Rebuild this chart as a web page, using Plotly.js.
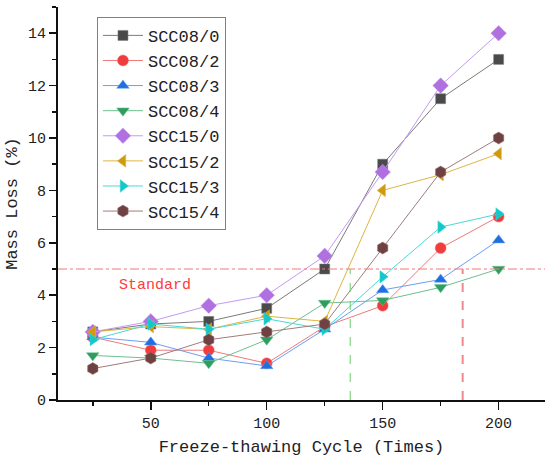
<!DOCTYPE html>
<html><head><meta charset="utf-8">
<script src="https://cdn.plot.ly/plotly-3.0.1.min.js"></script>
<style>html,body{margin:0;padding:0;background:#fff}</style>
</head><body>
<div id="chart" style="width:550px;height:463px"></div>
<script>
var cycles = [25, 50, 75, 100, 125, 150, 175, 200];
var names = ["SCC08/0","SCC08/2","SCC08/3","SCC08/4","SCC15/0","SCC15/2","SCC15/3","SCC15/4"];
var scc08_0 = [2.6, 2.9, 3.0, 3.5, 5.0, 9.0, 11.5, 13.0];
var scc08_2 = [2.4, 1.9, 1.9, 1.4, 2.8, 3.6, 5.8, 7.0];
var scc08_3 = [2.4, 2.2, 1.6, 1.3, 2.7, 4.2, 4.6, 6.1];
var scc08_4 = [1.7, 1.6, 1.4, 2.3, 3.7, 3.8, 4.3, 5.0];
var scc15_0 = [2.6, 3.0, 3.6, 4.0, 5.5, 8.7, 12.0, 14.0];
var scc15_2 = [2.6, 2.8, 2.7, 3.2, 3.0, 8.0, 8.6, 9.4];
var scc15_3 = [2.3, 2.9, 2.7, 3.1, 2.7, 4.7, 6.6, 7.1];
var scc15_4 = [1.2, 1.6, 2.3, 2.6, 2.9, 5.8, 8.7, 10.0];
var standardValue = 5;
var crossX1 = 136;
var crossX2 = 184.5;

var series = [scc08_0, scc08_2, scc08_3, scc08_4, scc15_0, scc15_2, scc15_3, scc15_4];
var symbols = ["square","circle","triangle-up","triangle-down","diamond","triangle-left","triangle-right","hexagon"];
var mcolors = ["#4a4a4a","#f03c3c","#1f6fe0","#2e9e5e","#b070e0","#cf9a0e","#12c8c8","#6e4242"];
var lcolors = ["#7a7a7a","#f07a7a","#6aa0f0","#6cc090","#c49af0","#e0b440","#4ad8d8","#a07c7c"];
var sizes = [10, 11, 11, 11, 12, 11, 11, 12];

var FONT = "Liberation Mono, DejaVu Sans Mono, monospace";

var traces = series.map(function(v, i){
  return {
    x: cycles, y: v, name: names[i], type: "scatter", mode: "lines+markers",
    line: {color: lcolors[i], width: 1},
    marker: {symbol: symbols[i], size: sizes[i], color: mcolors[i], line: {width: 0.5, color: lcolors[i]}}
  };
});

var layout = {
  width: 550, height: 463,
  margin: {l: 58, r: 5, t: 7, b: 63},
  paper_bgcolor: "#fff", plot_bgcolor: "#fff",
  font: {family: FONT, color: "#222", size: 15},
  showlegend: true,
  legend: {
    x: 0.08, y: 0.975, xanchor: "left", yanchor: "top",
    bgcolor: "#fff", bordercolor: "#808080", borderwidth: 1,
    font: {family: FONT, size: 17, color: "#222"},
    itemwidth: 40, tracegroupgap: 0
  },
  xaxis: {
    range: [10, 220], tickvals: [50,100,150,200], showgrid: false, zeroline: false,
    showline: true, linecolor: "#111", linewidth: 2,
    ticks: "outside", ticklen: 8, tickwidth: 1.5, tickcolor: "#111",
    minor: {tickvals: [25,75,125,175], ticks: "outside", ticklen: 4, tickwidth: 1.5, tickcolor: "#111"},
    tickfont: {family: FONT, size: 15, color: "#222"},
    title: {text: "Freeze-thawing Cycle (Times)", font: {family: FONT, size: 17, color: "#222"}, standoff: 8}
  },
  yaxis: {
    range: [0, 15], dtick: 2, tick0: 0, showgrid: false, zeroline: false,
    showline: true, linecolor: "#111", linewidth: 2,
    ticks: "outside", ticklen: 7, tickwidth: 1.5, tickcolor: "#111",
    minor: {dtick: 1, ticks: "outside", ticklen: 4, tickwidth: 1.5, tickcolor: "#111"},
    tickfont: {family: FONT, size: 15, color: "#222"},
    title: {text: "Mass Loss (%)", font: {family: FONT, size: 17, color: "#222"}, standoff: 6}
  },
  shapes: [
    {type: "line", xref: "paper", yref: "y", x0: 0, x1: 1, y0: standardValue, y1: standardValue,
     line: {color: "#f07878", width: 1, dash: "dashdot"}},
    {type: "line", xref: "x", yref: "y", x0: crossX1, x1: crossX1, y0: 0, y1: standardValue,
     line: {color: "#66d066", width: 1, dash: "dash"}},
    {type: "line", xref: "x", yref: "y", x0: crossX2, x1: crossX2, y0: 0, y1: standardValue,
     line: {color: "#f08a8a", width: 2, dash: "dash"}}
  ],
  annotations: [
    {x: 52, y: 4.37, xref: "x", yref: "y", text: "Standard", showarrow: false,
     xanchor: "center", yanchor: "middle", font: {family: FONT, size: 15, color: "#ff3b3b"}}
  ]
};

Plotly.newPlot("chart", traces, layout, {displayModeBar: false, staticPlot: true});
</script>
</body></html>
